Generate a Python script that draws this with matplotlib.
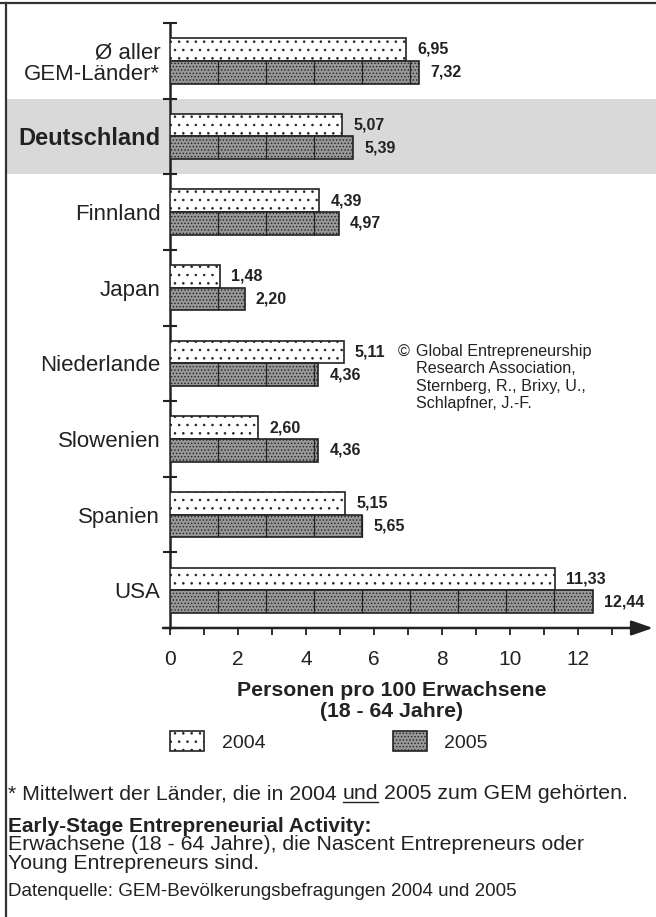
import numpy as np
import matplotlib
matplotlib.use('Agg')
import matplotlib.pyplot as plt
from matplotlib.patches import Rectangle, Patch
from matplotlib.lines import Line2D
import matplotlib.transforms as mtransforms

plt.rcParams['font.family'] = ['Liberation Sans', 'DejaVu Sans']
plt.rcParams['hatch.linewidth'] = 0.6

# ---------------- data ----------------
categories = ['Ø aller\nGEM-Länder*', 'Deutschland', 'Finnland', 'Japan',
              'Niederlande', 'Slowenien', 'Spanien', 'USA']
values_2004 = [6.95, 5.07, 4.39, 1.48, 5.11, 2.60, 5.15, 11.33]
values_2005 = [7.32, 5.39, 4.97, 2.20, 4.36, 4.36, 5.65, 12.44]
series_names = ['2004', '2005']
xticks = [0, 2, 4, 6, 8, 10, 12]
minor_xticks = [1, 3, 5, 7, 9, 11, 13]
highlight = 'Deutschland'

# ---------------- style ----------------
W, H = 656, 917
INK = '#222222'
C2004 = 'white'
C2005 = '#979797'
BAND = '#d9d9d9'
SEG = 1.41  # spacing of decorative divider lines in 2005 bars

fig = plt.figure(figsize=(W / 100, H / 100), dpi=100)
ax = fig.add_axes([170 / W, 1 - 628 / H, (653 - 170) / W, (628 - 23) / H])
ax.patch.set_visible(False)

n = len(categories)
yc = np.arange(n) + 0.5
bh = 0.30

ax.barh(yc - bh / 2, values_2004, height=bh, color=C2004, edgecolor=INK,
        linewidth=1.2, hatch='..', zorder=3)
ax.barh(yc + bh / 2, values_2005, height=bh, color=C2005, edgecolor=INK,
        linewidth=1.2, hatch='.....', zorder=3)

for yv, v in zip(yc, values_2005):
    xs = np.arange(SEG, v, SEG)
    ax.vlines(xs, yv, yv + bh, color=INK, lw=0.9, zorder=4)

def fmt(v):
    return f'{v:.2f}'.replace('.', ',')

for yv, v in zip(yc, values_2004):
    ax.annotate(fmt(v), xy=(v, yv - bh / 2), xytext=(8, 0), textcoords='offset points',
                va='center', ha='left', fontsize=11.5, fontweight='bold', color=INK)
for yv, v in zip(yc, values_2005):
    ax.annotate(fmt(v), xy=(v, yv + bh / 2), xytext=(8, 0), textcoords='offset points',
                va='center', ha='left', fontsize=11.5, fontweight='bold', color=INK)

ax.set_xlim(0, (653 - 170) / 34.0)
ax.set_ylim(n, 0)

for s in ['top', 'right', 'bottom']:
    ax.spines[s].set_visible(False)
ax.spines['left'].set_linewidth(1.8)
ax.spines['left'].set_color(INK)

# x axis arrow
ax.annotate('', xy=(1, 0), xytext=(-7 / 483, 0), xycoords='axes fraction',
            arrowprops=dict(arrowstyle='-|>,head_length=1.3,head_width=0.45',
                            lw=1.8, color=INK, shrinkA=0, shrinkB=0), zorder=5)

ax.set_xticks(xticks)
ax.set_xticks(minor_xticks, minor=True)
ax.tick_params(axis='x', which='both', direction='out', length=5, width=1.3,
               color=INK, labelsize=15, labelcolor=INK, pad=11)

ax.set_yticks(np.arange(n + 1))
ax.set_yticklabels([])
ax.tick_params(axis='y', which='major', direction='inout', length=10, width=1.5, color=INK)
ax.set_yticks(yc, labels=categories, minor=True)
ax.tick_params(axis='y', which='minor', length=0, pad=7, labelsize=16, labelcolor=INK)
for lab in ax.get_yticklabels(minor=True):
    lab.set_linespacing(1.03)
    if lab.get_text() == highlight:
        lab.set_fontweight('bold')
        lab.set_fontsize(17)

# highlight band
hi = categories.index(highlight)
trans = mtransforms.blended_transform_factory(fig.transFigure, ax.transData)
ax.add_patch(Rectangle((7 / W, hi), 1 - 7 / W, 1, transform=trans, color=BAND,
                       zorder=0, clip_on=False, lw=0))

# x label
fig.text(392 / W, 1 - 701 / H, 'Personen pro 100 Erwachsene\n(18 - 64 Jahre)',
         ha='center', va='center', fontsize=15.3, fontweight='bold', color=INK,
         linespacing=1.15)

# legend
handles = [Patch(facecolor=C2004, edgecolor=INK, hatch='..', lw=1.2),
           Patch(facecolor=C2005, edgecolor=INK, hatch='.....', lw=1.2)]
fig.legend(handles, series_names, loc='upper left', bbox_to_anchor=(170 / W, 1 - 731 / H),
           ncol=2, frameon=False, fontsize=14, handlelength=1.75, handleheight=1.2,
           handletextpad=0.9, columnspacing=6.55, borderpad=0, borderaxespad=0,
           labelcolor=INK)

# copyright
fig.text(398 / W, 1 - 352 / H, '©', ha='left', va='center', fontsize=11.6, color=INK)
fig.text(416 / W, 1 - 344 / H,
         'Global Entrepreneurship\nResearch Association,\nSternberg, R., Brixy, U.,\nSchlapfner, J.-F.',
         ha='left', va='top', fontsize=11.6, color=INK, linespacing=1.2)

# footnotes
FS = 15.3
t1 = fig.text(8 / W, 1 - 799 / H, '* Mittelwert der Länder, die in 2004',
              ha='left', va='baseline', fontsize=FS, color=INK)
t2 = ax.annotate('und', xy=(1, 0), xycoords=t1, xytext=(4.2, 0), textcoords='offset points',
                 ha='left', va='bottom', fontsize=FS, color=INK)
t3 = ax.annotate('2005 zum GEM gehörten.', xy=(1, 0), xycoords=t2, xytext=(4.2, 0),
                 textcoords='offset points', ha='left', va='bottom', fontsize=FS, color=INK)
fig.canvas.draw()
bb = t2.get_window_extent()
t1bb = t1.get_window_extent()
yline = (t1bb.y0 + 1) / H
fig.add_artist(Line2D([bb.x0 / W, bb.x1 / W], [yline, yline],
                      transform=fig.transFigure, color=INK, lw=1.0))

fig.text(8 / W, 1 - 827 / H, 'Early-Stage Entrepreneurial Activity:', ha='left', va='center',
         fontsize=15, fontweight='bold', color=INK)
fig.text(8 / W, 1 - 835 / H,
         'Erwachsene (18 - 64 Jahre), die Nascent Entrepreneurs oder\nYoung Entrepreneurs sind.',
         ha='left', va='top', fontsize=FS, color=INK, linespacing=0.98)
fig.text(8 / W, 1 - 892 / H, 'Datenquelle: GEM-Bevölkerungsbefragungen 2004 und 2005',
         ha='left', va='center', fontsize=13.5, color=INK)

# frame
fig.add_artist(Line2D([0, 1], [1 - 3 / H] * 2, transform=fig.transFigure, color='#333333', lw=1.6))
fig.add_artist(Line2D([6 / W] * 2, [0, 1 - 3 / H], transform=fig.transFigure, color='#333333', lw=1.6))

fig.savefig('out.png', dpi=100)
